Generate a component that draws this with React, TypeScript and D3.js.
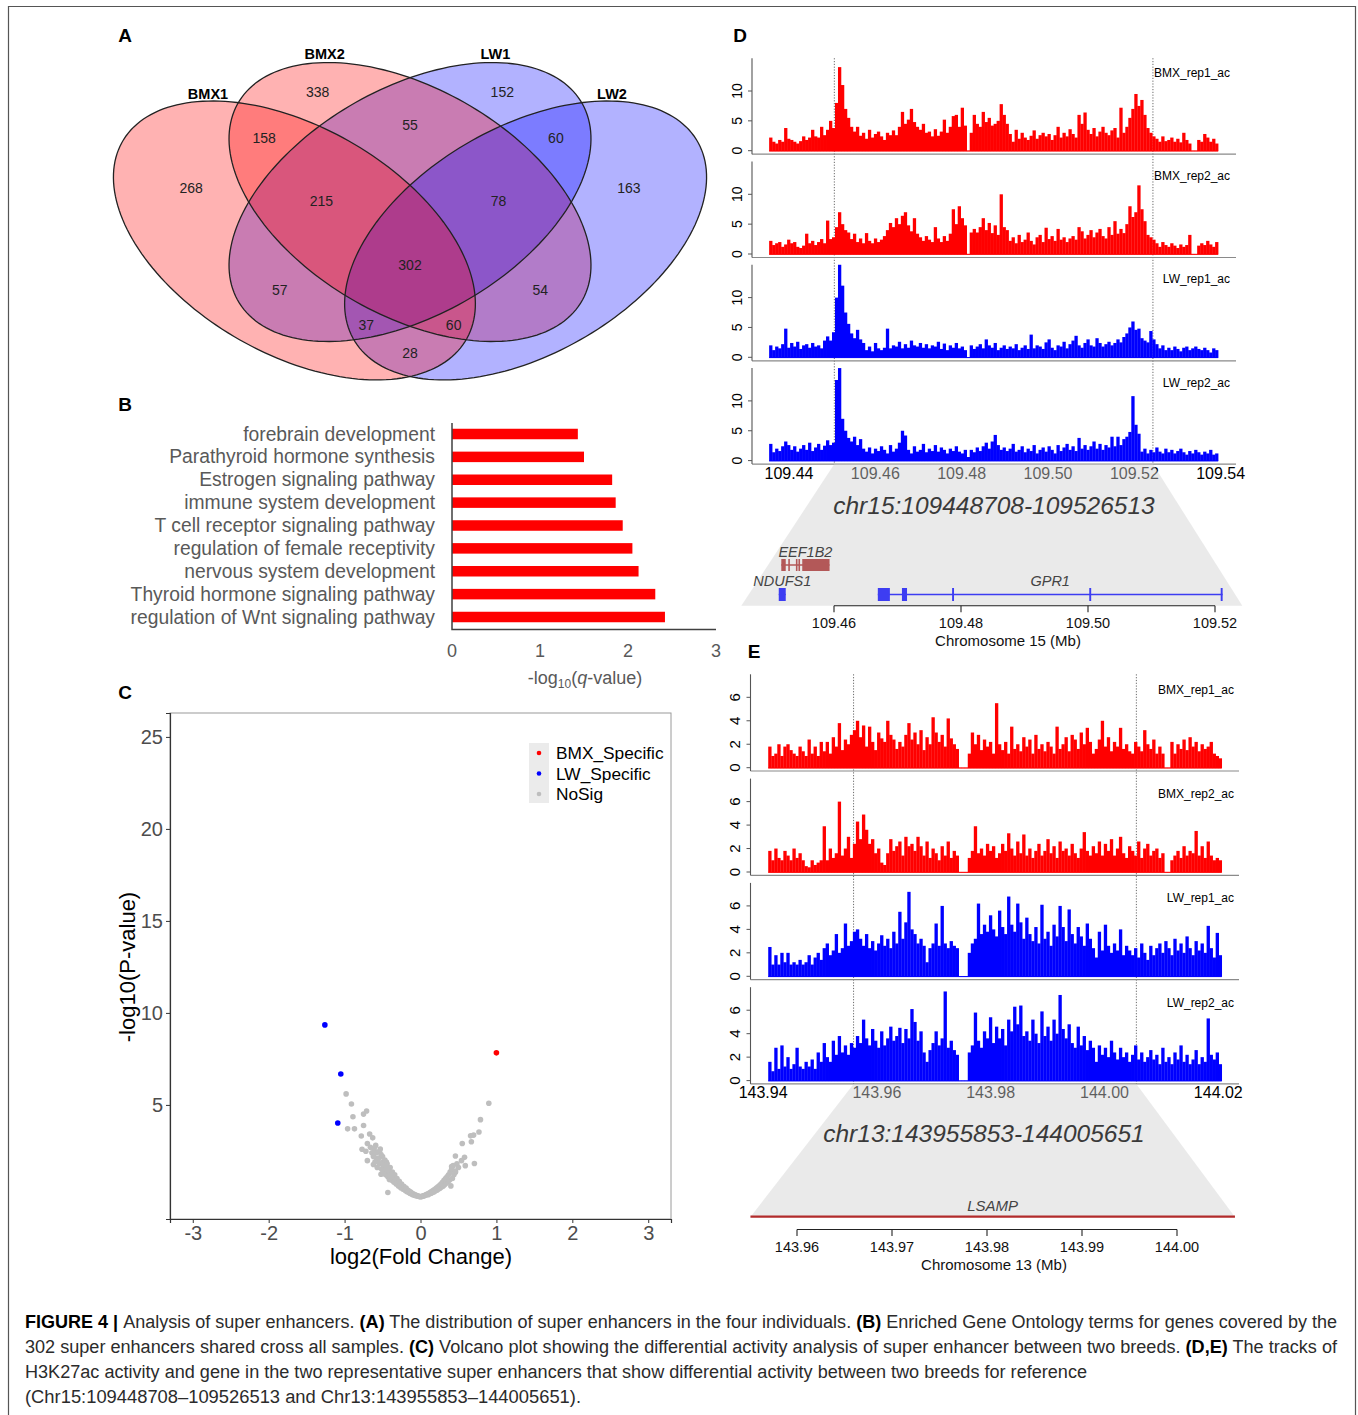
import React, { useEffect, useRef } from 'react';
import * as d3 from 'd3';

const SANS = "'Liberation Sans', Arial, Helvetica, sans-serif";

// ---------- A: Venn ----------
const vennSets = ['BMX1', 'BMX2', 'LW1', 'LW2'];
const vennCounts = [268, 338, 152, 163, 158, 55, 60, 215, 78, 302, 57, 54, 37, 60, 28];

// ---------- B: GO terms ----------
const goTerms = [
  'forebrain development',
  'Parathyroid hormone synthesis',
  'Estrogen signaling pathway',
  'immune system development',
  'T cell receptor signaling pathway',
  'regulation of female receptivity',
  'nervous system development',
  'Thyroid hormone signaling pathway',
  'regulation of Wnt signaling pathway',
];
const goLog10Q = [1.43, 1.5, 1.82, 1.86, 1.94, 2.05, 2.12, 2.31, 2.42];
const goTicks = [0, 1, 2, 3];

// ---------- C: volcano ----------
const volcanoXTicks = [-3, -2, -1, 0, 1, 2, 3];
const volcanoYTicks = [5, 10, 15, 20, 25];
const bmxSpecific = [[1.0, 7.83]];
const lwSpecific = [[-1.26, 9.35], [-1.05, 6.68], [-1.09, 4.02]];
const noSig = [
  [-0.98, 5.6], [-0.91, 5.05], [-0.89, 4.36], [-0.75, 4.5], [-0.71, 4.67], [-0.96, 3.7], [-0.87, 3.7],
  [-0.75, 3.88], [-0.78, 3.31], [-0.67, 3.42], [-0.63, 3.21], [-0.7, 2.9], [-0.77, 2.59], [-0.72, 2.48],
  [-0.59, 2.8], [-0.54, 2.48], [-0.7, 1.97], [-0.62, 1.76], [-0.57, 1.97], [-0.49, 1.65], [-0.44, 1.45],
  [-0.52, 1.23], [-0.39, 1.13], [-0.43, 0.24], [-0.66, 2.7], [-0.64, 2.4], [-0.61, 2.6], [-0.58, 2.1],
  [-0.53, 2.6], [-0.5, 2.2], [-0.47, 1.5], [-0.45, 1.9],
  [-0.62, 2.2], [-0.6, 1.9], [-0.58, 2.4], [-0.57, 1.6], [-0.55, 2.1], [-0.54, 1.8], [-0.52, 2.3],
  [-0.51, 1.5], [-0.5, 1.9], [-0.49, 1.3], [-0.48, 1.7], [-0.47, 2.0], [-0.46, 1.2], [-0.45, 1.55],
  [-0.44, 1.8], [-0.43, 1.1], [-0.42, 1.4], [-0.41, 0.95], [-0.4, 1.6], [-0.39, 1.2], [-0.38, 0.9],
  [-0.37, 1.35], [-0.36, 1.05], [-0.35, 0.8], [-0.34, 1.2], [-0.33, 0.95], [-0.32, 0.7], [-0.31, 1.0],
  [-0.3, 0.8], [-0.29, 0.6], [-0.28, 0.85], [-0.27, 0.65], [-0.26, 0.5], [-0.25, 0.7], [-0.24, 0.55],
  [-0.23, 0.42], [-0.22, 0.58], [-0.21, 0.45], [-0.2, 0.35], [-0.19, 0.48], [-0.18, 0.3], [-0.17, 0.38],
  [-0.16, 0.25], [-0.15, 0.32], [-0.14, 0.2], [-0.13, 0.26], [-0.12, 0.16], [-0.11, 0.2], [-0.1, 0.12],
  [-0.09, 0.16], [-0.08, 0.09], [-0.07, 0.11], [-0.06, 0.07], [-0.05, 0.08], [-0.04, 0.05], [-0.03, 0.04],
  [-0.02, 0.03], [-0.01, 0.02], [0, 0.01],
  [0.9, 5.09], [0.79, 4.2], [0.77, 3.53], [0.66, 3.32], [0.7, 3.36], [0.67, 3.0], [0.55, 2.9], [0.71, 1.82],
  [0.58, 2.15], [0.46, 2.22], [0.54, 1.97], [0.59, 1.7], [0.41, 1.65], [0.46, 1.34],
  [0.01, 0.02], [0.02, 0.03], [0.03, 0.04], [0.04, 0.06], [0.05, 0.07], [0.06, 0.09], [0.07, 0.1],
  [0.08, 0.13], [0.09, 0.15], [0.1, 0.12], [0.11, 0.2], [0.12, 0.17], [0.13, 0.25], [0.14, 0.2],
  [0.15, 0.3], [0.16, 0.24], [0.17, 0.36], [0.18, 0.28], [0.19, 0.42], [0.2, 0.33], [0.21, 0.48],
  [0.22, 0.38], [0.23, 0.55], [0.24, 0.43], [0.25, 0.62], [0.26, 0.48], [0.27, 0.7], [0.28, 0.55],
  [0.29, 0.8], [0.3, 0.6], [0.31, 0.9], [0.32, 0.68], [0.33, 1.0], [0.34, 0.75], [0.35, 1.1],
  [0.36, 0.82], [0.37, 1.2], [0.38, 0.9], [0.39, 1.35], [0.4, 0.6], [0.41, 1.5], [0.42, 1.0],
  [0.43, 1.7], [0.44, 1.2], [0.46, 1.4], [0.48, 1.8], [0.5, 1.6],
];
const volcanoLegend = ['BMX_Specific', 'LW_Specific', 'NoSig'];

// ---------- D: chr15 tracks (150 bins each) ----------
const chr15Ticks = [109.44, 109.46, 109.48, 109.50, 109.52, 109.54];
const chr15Range = [109.4354, 109.5394];
const chr15SE = [109.4505, 109.5243];
const dBmx1 = [
  2.2, 1.5, 1.2, 1.8, 1.5, 3.8, 2, 1.8, 1.5, 1.2,
  1.6, 2.4, 1.8, 2.2, 3.5, 2.4, 2.2, 4, 2.6, 3.5,
  5, 3.8, 8, 14, 11, 7, 5.5, 4, 3.2, 4,
  2.5, 3, 2, 3.5, 2.2, 2.8, 3.2, 2.4, 1.8, 3,
  2.6, 3.4, 2.6, 4, 6.5, 4.5, 5.2, 7, 4.8, 4,
  3.5, 4.5, 3, 3.2, 2.4, 3.6, 2.5, 3.2, 5.2, 3,
  4, 5.8, 6, 4, 7.2, 4.2, 0, 3, 6, 4.5,
  4, 6.5, 4.8, 5.5, 4.2, 4.5, 5, 7.8, 6, 4.5,
  2.8, 1.5, 3.5, 2, 3, 2.2, 1.8, 2.5, 3.4, 2,
  2.6, 3, 2.4, 2.8, 1.8, 2.6, 4, 2.2, 3, 2.4,
  3.6, 2.8, 2.2, 6, 4.5, 6.4, 3.5, 2.8, 3.8, 2.4,
  3.2, 4, 3, 2.6, 3.4, 3.8, 2.2, 7.2, 3, 4,
  5.5, 7, 9.5, 7.5, 8.5, 6, 3.8, 3, 2.4, 2,
  1.5, 2.4, 1.6, 1.8, 2.2, 1.5, 2, 1.4, 3, 1.8,
  1.2, 0, 0, 1.8, 1.5, 2.8, 2.2, 1.5, 2, 1.2,
];
const dBmx2 = [
  2.2, 1.5, 1.8, 2, 1.2, 1.6, 2.4, 1.8, 2, 1.2,
  1, 1.4, 3.4, 1.8, 2.2, 1.5, 2, 2.5, 1.8, 5.6,
  2.5, 2.8, 4.5, 7, 5, 4, 3.6, 2.5, 3.4, 2,
  2.6, 1.8, 3.5, 2.2, 1.8, 2.6, 2, 2.4, 3, 4,
  5.2, 4.5, 6, 5, 6.4, 7, 4.8, 3.8, 6, 3.4,
  2.8, 2.2, 3, 2.4, 2, 4.5, 2.6, 2, 3, 2.2,
  3.4, 7.5, 5, 8, 6, 4.8, 0, 3.6, 4.2, 3.6,
  4.5, 6, 4, 5.2, 3.5, 4.8, 3.2, 10, 4.5, 4,
  2.2, 2.8, 1.8, 3.2, 2, 2.4, 3.6, 2.2, 1.6, 2.8,
  3.2, 2, 4.4, 2.5, 3, 2.2, 4.2, 2.4, 2.8, 2,
  2.6, 3, 2.4, 4.5, 3.8, 2.6, 3.2, 4, 2.8, 3.6,
  4.2, 3, 2.6, 4.5, 3.2, 5.5, 3.4, 4.2, 3.5, 5,
  8, 6.2, 7, 11.5, 7.5, 5.5, 3.2, 2.8, 2.4, 1.8,
  1.2, 2, 1.5, 1.2, 1.8, 1.4, 1, 1.6, 1.2, 1.5,
  3.2, 0, 0, 1.4, 1.8, 1.5, 2.2, 1.6, 1.2, 2,
];
const dLw1 = [
  2, 1.2, 1.8, 1.5, 2.2, 4.8, 1.6, 2.4, 1.8, 2.6,
  1.4, 2, 2.2, 1.6, 2.4, 1.8, 2, 1.5, 2.8, 3.5,
  2.8, 4.2, 10, 15.5, 12, 7.5, 5.6, 4, 3.2, 4.6,
  3, 2.4, 1.2, 1.8, 1, 2.4, 1.5, 1.2, 1.6, 4.8,
  1.5, 2, 1.8, 2.6, 1.5, 2.2, 1.6, 2.8, 2, 1.8,
  2.4, 1.6, 2.2, 1.5, 2, 1.8, 2.6, 1.4, 2.3, 1.2,
  2, 1.6, 2.4, 1.5, 1.8, 1.2, 0, 2, 1.4, 1.8,
  2.2, 1.5, 3, 2, 1.6, 2.4, 1.2, 1.6, 2, 1.4,
  1.8, 1.5, 2.2, 1.2, 1.6, 2, 1.4, 3.8, 1.5, 2,
  1.8, 1.4, 2.5, 3, 1.6, 1.2, 2, 1.8, 2.6, 1.5,
  2.2, 2.8, 3.6, 2, 1.6, 2.4, 3, 2, 1.8, 3.2,
  2.4, 1.8, 2.2, 2.6, 2, 2.4, 3, 2.5, 3.4, 4,
  5, 6, 4.6, 4.8, 3.2, 2.8, 2.5, 4.4, 3, 2.2,
  1.5, 2, 1.2, 1.6, 1.2, 1.8, 1.4, 1, 1.6, 1.8,
  1.2, 1.5, 1.8, 1.4, 1.2, 1.6, 1.2, 0.8, 1.5, 1.2,
];
const dLw2 = [
  2.8, 1.4, 2, 1.6, 2.4, 3.2, 2.6, 1.8, 2.4, 1.5,
  2, 2.6, 1.8, 3, 1.6, 2.2, 2.8, 1.8, 2.5, 3.4,
  2.6, 3, 13.5, 15.5, 7, 5, 3.8, 3.2, 4, 2.6,
  3.6, 2, 1.5, 2.2, 1.2, 2, 1.6, 2.4, 1.8, 1.2,
  2.6, 1.5, 2, 3, 5, 4.2, 1.8, 1.2, 2.4, 1.5,
  1.8, 2.8, 1.4, 2, 1.6, 2.6, 1.5, 2.2, 1.8, 1.2,
  2, 1.6, 2.4, 1.5, 1.2, 1.8, 0.6, 1.8, 1.4, 2.2,
  1.6, 2.4, 3, 2, 3.2, 4.3, 2.6, 1.8, 2.2, 1.6,
  2, 2.8, 1.5, 1.8, 2.4, 1.4, 2, 1.6, 2.6, 1.2,
  1.8, 2.2, 1.5, 2.4, 1.8, 1.2, 2.6, 1.6, 2.2, 2.8,
  1.8, 2.4, 1.6, 3.8, 2, 2.6, 1.8, 2.4, 3.2, 2,
  2.8, 1.8, 2.6, 2.2, 4, 2.4, 4, 2.6, 3.6, 4,
  4.8, 10.8, 6, 4.5, 1.5, 2, 1.2, 1.8, 1.4, 2.2,
  1.5, 1.2, 2, 1.4, 1.8, 1.2, 1.6, 2, 1.4, 1,
  1.6, 1.2, 1.8, 1.4, 1, 1.5, 1.2, 1.8, 1, 1.2,
];

// ---------- E: chr13 tracks (150 bins each) ----------
const chr13Ticks = [143.94, 143.96, 143.98, 144.00, 144.02];
const chr13Range = [143.9409, 144.0206];
const chr13SE = [143.9559, 144.0056];
const eBmx1 = [
  1.8, 1, 1.2, 2, 1, 1.8, 2, 1.5, 1.2, 1,
  1.8, 1.4, 1, 2.4, 1.2, 1.8, 1, 2.2, 1.4, 2.2,
  1.2, 2.6, 1.8, 3.8, 1.5, 2.4, 2, 2.8, 3.2, 4,
  2.6, 3.6, 1.8, 3.5, 2.2, 1.5, 3, 2.5, 2.2, 4,
  2.8, 2.4, 1.6, 2.2, 1.8, 2.8, 3.8, 2.4, 3, 2,
  3.2, 1.5, 2.6, 2, 4.3, 3, 2.2, 2.8, 1.8, 4.2,
  2.5, 2, 1.6, 0, 0, 0, 1.2, 3, 2, 2.8,
  1.5, 2.4, 1.8, 2.2, 1.2, 5.5, 2, 1.5, 2.2, 1.2,
  3.5, 1.6, 2, 1.4, 2.6, 1.8, 2.4, 1.2, 2.8, 1.6,
  2, 1.4, 2.2, 1.8, 1.2, 3.5, 1.6, 2, 2.6, 1.4,
  2.8, 2.4, 1.6, 3, 2, 3.4, 2.2, 1.2, 1.6, 2.4,
  4, 1.8, 2.6, 1.4, 2.2, 1.8, 3.4, 1.6, 2, 1.4,
  1.2, 2.2, 1.8, 1.4, 3.2, 2, 1.6, 2.4, 1.2, 1.8,
  1.2, 0, 0, 2.2, 1.2, 2, 1.6, 2.4, 1.5, 2.6,
  1.8, 2.2, 1.4, 2, 1.6, 1.8, 2.2, 1.2, 1, 0.8,
];
const eBmx2 = [
  1.8, 1, 2, 1.2, 1, 1.8, 1.4, 1, 2, 1.2,
  1.6, 1, 0.5, 0.4, 1, 0.6, 0.8, 1, 3.9, 1,
  2, 1.2, 1.6, 6, 1.4, 2, 3, 1.2, 2.4, 4.3,
  2.8, 4.9, 3.6, 2.4, 2.8, 1.6, 2, 0.8, 0.6, 1.6,
  2.8, 1.8, 2.2, 2.6, 1.4, 3, 2.2, 2.4, 1.8, 3,
  2.2, 1.4, 2.6, 1.2, 2, 1.6, 1, 2.2, 1.4, 2.6,
  1.2, 1.8, 1.4, 0, 0, 0, 1.2, 1.8, 3.9, 1.6,
  2, 1.4, 2.4, 1.8, 2.2, 1.2, 1.6, 2.4, 1.8, 3.3,
  2, 1.4, 2.6, 1.6, 3.2, 1.4, 2, 1.2, 1.8, 2.4,
  1.4, 1.8, 2.8, 1.6, 2.2, 1.2, 2.6, 1.8, 2, 1.4,
  2.4, 1.6, 1.2, 2, 3.4, 1.8, 1.4, 2.2, 1.6, 2.6,
  1.4, 2.4, 1.8, 2.8, 1.4, 2, 3, 1.6, 1.2, 2.2,
  1.8, 1.4, 2.6, 1.2, 2, 2.4, 1.4, 1.8, 2, 1.2,
  1.6, 0, 0, 1, 1.4, 1.8, 1.2, 2.2, 1.4, 1.8,
  1.6, 3.5, 1.4, 2.2, 1.2, 2.6, 1.4, 1, 1.2, 1,
];
const eLw1 = [
  2.5, 1, 1.8, 1, 2, 1.2, 2, 1, 1.2, 1,
  1.4, 1, 1.2, 1.8, 1, 1.6, 2, 1.4, 2.4, 2.8,
  1.8, 2.2, 3.6, 2, 2.4, 4.5, 2.6, 3, 3.8, 4,
  3.2, 2.6, 3.6, 2.4, 3, 2.2, 2.8, 3.5, 2.6, 3.2,
  2.4, 3.8, 2.8, 5.5, 3.2, 4.6, 7.2, 4, 3.6, 2.8,
  3.2, 2.6, 1.2, 2.4, 2.8, 4.5, 2.6, 6, 2.8, 2.4,
  3, 2.6, 2.4, 0, 0, 0, 2, 2.8, 3.2, 6.2,
  3.6, 4.4, 3.8, 5.2, 4, 3.4, 5.6, 4.2, 3.6, 6.8,
  4.4, 3.8, 6.2, 4.6, 3.2, 5, 3.6, 3, 4.2, 2.8,
  6.1, 3.2, 3.8, 2.6, 4.4, 3.4, 6, 4.2, 3, 5.7,
  3.6, 2.8, 4.2, 3.4, 2.6, 4.5, 3.2, 2.4, 1.6, 3.8,
  2.2, 4.4, 2.6, 2, 2.8, 2.2, 4, 1.8, 2.6, 2.2,
  1.8, 2.4, 1.6, 2.8, 2, 1.4, 2.6, 1.8, 2.4, 2.8,
  2, 3, 2.4, 1.8, 3.2, 2.2, 2.8, 2, 3.4, 2.4,
  1.8, 3, 2.2, 2.8, 2, 4.3, 2.4, 1.6, 3.7, 1.8,
];
const eLw2 = [
  1.6, 0.8, 2.8, 1, 3, 1.2, 2, 1, 1.4, 2.8,
  1.2, 1, 1.6, 1.2, 1.8, 1, 2.4, 1.6, 3.2, 2,
  1.6, 3.4, 2.2, 3.8, 2.4, 3, 2.2, 3.2, 2.8, 3.8,
  3.2, 5.2, 3.6, 3, 4.4, 3.4, 2.8, 4.2, 3, 3.6,
  4.6, 3.4, 3.8, 4.5, 3.2, 4.4, 3.6, 6.1, 5, 3.4,
  4.2, 2.4, 1.6, 2.6, 3.2, 4.2, 3, 3.6, 7.6, 2.8,
  3.4, 2.6, 2.2, 0, 0, 0, 2.4, 3, 5.8, 3.4,
  2.8, 4.2, 3.6, 5.4, 3.2, 4.6, 3.6, 4.4, 3, 5.2,
  4.2, 6.3, 4.8, 6.4, 3.8, 4.2, 3.4, 5.2, 4, 3.2,
  5.9, 3.8, 4.6, 3.4, 5.2, 4, 7.3, 4.4, 3.6, 4.8,
  3.2, 2.8, 4.6, 3, 3.8, 2.6, 3.4, 2.8, 1.6, 3,
  2.2, 2.8, 2, 3.4, 2.4, 1.8, 2.8, 2, 2.4, 1.6,
  2.2, 3, 1.8, 2.4, 1.6, 2, 2.6, 1.8, 2.2, 1.4,
  2.8, 1.6, 2, 1.4, 2.4, 1.8, 3, 1.6, 2.2, 1.4,
  1.8, 2.6, 1.4, 2, 1.6, 5.3, 2.2, 1.8, 2.4, 1.4,
];

const trackNames = ['BMX_rep1_ac', 'BMX_rep2_ac', 'LW_rep1_ac', 'LW_rep2_ac'];

// ---------- gene models ----------
const chr15GeneTicks = [109.46, 109.48, 109.50, 109.52];
const chr15View = [109.4454, 109.5243];
const chr15Genes = [
  { name: 'EEF1B2', row: 0, start: 109.4517, end: 109.4593,
    exons: [[109.4517, 109.4524], [109.4528, 109.453], [109.454, 109.4542], [109.4544, 109.4546], [109.455, 109.4593]] },
  { name: 'NDUFS1', row: 1, start: 109.4513, end: 109.4524, exons: [[109.4513, 109.4524]] },
  { name: 'GPR1', row: 1, start: 109.4669, end: 109.5212,
    exons: [[109.4669, 109.4688], [109.4707, 109.4715], [109.4786, 109.4789], [109.5002, 109.5005], [109.5209, 109.5212]] },
];
const chr13GeneTicks = [143.96, 143.97, 143.98, 143.99, 144.00];
const chr13View = [143.9551, 144.0061];
const chr13Genes = [{ name: 'LSAMP', start: 143.9551, end: 144.0061 }];

const captionLines = [
  [['b', 'FIGURE 4 | '], ['n', 'Analysis of super enhancers. '], ['b', '(A)'], ['n', ' The distribution of super enhancers in the four individuals. '], ['b', '(B)'], ['n', ' Enriched Gene Ontology terms for genes covered by the']],
  [['n', '302 super enhancers shared cross all samples. '], ['b', '(C)'], ['n', ' Volcano plot showing the differential activity analysis of super enhancer between two breeds. '], ['b', '(D,E)'], ['n', ' The tracks of']],
  [['n', 'H3K27ac activity and gene in the two representative super enhancers that show differential activity between two breeds for reference']],
  [['n', '(Chr15:109448708\u2013109526513 and Chr13:143955853\u2013144005651).']],
];

export default function App() {
  const ref = useRef(null);

  useEffect(() => {
    const svg = d3.select(ref.current);
    svg.selectAll('*').remove();

    // frame
    svg.append('path').attr('d', 'M8.5,1415V6.5H1355.5V1415').attr('fill', 'none').attr('stroke', '#555').attr('stroke-width', 1.2);

    const letter = (t, x, y) => svg.append('text').attr('x', x).attr('y', y).attr('text-anchor', 'middle')
      .attr('dominant-baseline', 'central').attr('font-family', SANS).attr('font-weight', 'bold').attr('font-size', 19).text(t);
    letter('A', 125, 35); letter('B', 125, 404); letter('C', 125, 692); letter('D', 740, 35); letter('E', 754, 651);

    // ================= A: Venn =================
    const xV = d3.scaleLinear().domain([0, 1]).range([98.25, 721.75]);
    const yV = d3.scaleLinear().domain([0, 1]).range([475.9, -4.6]);
    const VA = 0.35, VB = 0.2145;
    const ellipses = [
      { cx: 0.3146, cy: 0.49, rot: -45, color: '#FF0000' },
      { cx: 0.5, cy: 0.57, rot: -45, color: '#FF0000' },
      { cx: 0.5, cy: 0.57, rot: 45, color: '#0000FF' },
      { cx: 0.6854, cy: 0.49, rot: 45, color: '#0000FF' },
    ];
    const ellPath = (e) => {
      const r = e.rot * Math.PI / 180;
      const pts = d3.range(180).map(i => {
        const t = i / 180 * 2 * Math.PI;
        const ex = VA * Math.cos(t), ey = VB * Math.sin(t);
        return [xV(e.cx + ex * Math.cos(r) - ey * Math.sin(r)), yV(e.cy + ex * Math.sin(r) + ey * Math.cos(r))];
      });
      return d3.line().curve(d3.curveLinearClosed)(pts);
    };
    const gA = svg.append('g');
    [2, 1, 3, 0].forEach(i => gA.append('path').attr('d', ellPath(ellipses[i])).attr('fill', ellipses[i].color).attr('fill-opacity', 0.3));
    ellipses.forEach(e => gA.append('path').attr('d', ellPath(e)).attr('fill', 'none').attr('stroke', '#222').attr('stroke-width', 1.3));
    const countPos = [[0.149, 0.599], [0.352, 0.799], [0.648, 0.799], [0.851, 0.599], [0.266, 0.703], [0.5, 0.73], [0.734, 0.703],
      [0.358, 0.572], [0.642, 0.572], [0.5, 0.439], [0.291, 0.387], [0.709, 0.387], [0.43, 0.314], [0.57, 0.314], [0.5, 0.256]];
    vennCounts.forEach((c, i) => gA.append('text').attr('x', xV(countPos[i][0])).attr('y', yV(countPos[i][1]))
      .attr('text-anchor', 'middle').attr('dominant-baseline', 'central').attr('font-family', SANS).attr('font-size', 14)
      .attr('fill', '#222').text(c));
    const setPos = [[0.176, 0.795], [0.363, 0.878], [0.637, 0.878], [0.824, 0.795]];
    vennSets.forEach((s, i) => gA.append('text').attr('x', xV(setPos[i][0])).attr('y', yV(setPos[i][1]))
      .attr('text-anchor', 'middle').attr('dominant-baseline', 'central').attr('font-family', SANS).attr('font-size', 14.5)
      .attr('font-weight', 'bold').text(s));

    // ================= B: GO bars =================
    const xB = d3.scaleLinear().domain([0, 3]).range([452, 716]);
    const yB = d3.scalePoint().domain(goTerms).range([434, 617]);
    const gB = svg.append('g');
    gB.selectAll('rect').data(goTerms).join('rect')
      .attr('x', xB(0)).attr('y', d => yB(d) - 5.25).attr('height', 10.5)
      .attr('width', (d, i) => xB(goLog10Q[i]) - xB(0)).attr('fill', '#FF0000');
    gB.selectAll('text.lab').data(goTerms).join('text').attr('class', 'lab')
      .attr('x', 435).attr('y', d => yB(d)).attr('text-anchor', 'end').attr('dominant-baseline', 'central')
      .attr('font-family', SANS).attr('font-size', 19.3).attr('fill', '#595959').text(d => d);
    gB.append('path').attr('d', `M${xB(0)},423V629.5H${xB(3)}`).attr('fill', 'none').attr('stroke', '#404040').attr('stroke-width', 1.5);
    gB.selectAll('text.tk').data(goTicks).join('text').attr('class', 'tk')
      .attr('x', d => xB(d)).attr('y', 651).attr('text-anchor', 'middle').attr('dominant-baseline', 'central')
      .attr('font-family', SANS).attr('font-size', 18).attr('fill', '#595959').text(d => d);
    const tt = gB.append('text').attr('x', 585).attr('y', 684).attr('text-anchor', 'middle')
      .attr('font-family', SANS).attr('font-size', 18).attr('fill', '#595959');
    tt.append('tspan').text('-log');
    tt.append('tspan').attr('font-size', 12).attr('dy', 4).text('10');
    tt.append('tspan').attr('dy', -4).text('(');
    tt.append('tspan').attr('font-style', 'italic').text('q');
    tt.append('tspan').text('-value)');

    // ================= C: volcano =================
    const xC = d3.scaleLinear().domain([-3.3, 3.3]).range([170, 671]);
    const yC = d3.scaleLinear().domain([-1.2, 26.3]).range([1219, 713]);
    const gC = svg.append('g');
    gC.append('rect').attr('x', 170).attr('y', 713).attr('width', 501).attr('height', 506)
      .attr('fill', 'none').attr('stroke', '#9a9a9a').attr('stroke-width', 1);
    const axL = gC.append('g').attr('transform', 'translate(170,0)')
      .call(d3.axisLeft(yC).tickValues(volcanoYTicks).tickSize(4).tickPadding(3).tickFormat(d => String(d)));
    const axB = gC.append('g').attr('transform', 'translate(0,1219)')
      .call(d3.axisBottom(xC).tickValues(volcanoXTicks).tickSize(4).tickPadding(3).tickFormat(d => String(d)));
    [axL, axB].forEach(a => {
      a.select('.domain').attr('stroke', '#333').attr('stroke-width', 1.2);
      a.selectAll('.tick line').attr('stroke', '#333');
      a.selectAll('.tick text').attr('font-family', SANS).attr('font-size', 20).attr('fill', '#4d4d4d');
    });
    gC.selectAll('circle.ns').data(noSig).join('circle').attr('class', 'ns')
      .attr('cx', d => xC(d[0])).attr('cy', d => yC(d[1])).attr('r', 2.8).attr('fill', '#BEBEBE');
    gC.selectAll('circle.lw').data(lwSpecific).join('circle').attr('class', 'lw')
      .attr('cx', d => xC(d[0])).attr('cy', d => yC(d[1])).attr('r', 2.8).attr('fill', '#0000FF');
    gC.selectAll('circle.bm').data(bmxSpecific).join('circle').attr('class', 'bm')
      .attr('cx', d => xC(d[0])).attr('cy', d => yC(d[1])).attr('r', 2.8).attr('fill', '#FF0000');
    gC.append('text').attr('transform', 'translate(127,967) rotate(-90)').attr('text-anchor', 'middle')
      .attr('dominant-baseline', 'central').attr('font-family', SANS).attr('font-size', 22).text('-log10(P-value)');
    gC.append('text').attr('x', 421).attr('y', 1256).attr('text-anchor', 'middle').attr('dominant-baseline', 'central')
      .attr('font-family', SANS).attr('font-size', 22).text('log2(Fold Change)');
    gC.append('rect').attr('x', 529).attr('y', 743).attr('width', 20).attr('height', 60).attr('fill', '#EBEBEB');
    const legColors = ['#FF0000', '#0000FF', '#BEBEBE'];
    volcanoLegend.forEach((l, i) => {
      gC.append('circle').attr('cx', 539).attr('cy', 753 + i * 20.5).attr('r', 2.3).attr('fill', legColors[i]);
      gC.append('text').attr('x', 556).attr('y', 753 + i * 20.5).attr('dominant-baseline', 'central')
        .attr('font-family', SANS).attr('font-size', 17.3).text(l);
    });

    // ================= tracks =================
    const drawTracks = (o) => {
      const g = svg.append('g');
      const n = o.tracks[0].length;
      const bw = (o.x(o.range[1]) - o.x(o.range[0])) / n;
      const top = o.zero0 - o.topOff;
      const bottom = o.zero0 + 3 * o.step + o.botOff;
      o.se.forEach(v => g.append('line').attr('x1', o.x(v)).attr('x2', o.x(v)).attr('y1', top).attr('y2', bottom)
        .attr('stroke', '#444').attr('stroke-width', 0.8).attr('stroke-dasharray', '1.2,1.6'));
      o.tracks.forEach((vals, k) => {
        const z = o.zero0 + k * o.step;
        const y = d3.scaleLinear().domain([0, 1]).range([z, z - o.perUnit]);
        const color = k < 2 ? '#FF0000' : '#0000FF';
        g.append('g').selectAll('rect').data(vals).join('rect')
          .attr('x', (d, i) => o.x(o.range[0]) + i * bw).attr('width', bw + 0.3)
          .attr('y', d => y(d)).attr('height', d => Math.max(0, z - y(d) + 0.5)).attr('fill', color);
        g.append('line').attr('x1', o.x(o.range[0])).attr('x2', o.x(o.range[1])).attr('y1', z + 0.3).attr('y2', z + 0.3)
          .attr('stroke', color).attr('stroke-width', 1);
        g.append('line').attr('x1', o.axisX).attr('x2', o.lineEnd).attr('y1', z + o.botOff).attr('y2', z + o.botOff)
          .attr('stroke', '#8a8a8a').attr('stroke-width', 1.2);
        g.append('line').attr('x1', o.axisX).attr('x2', o.axisX).attr('y1', z - o.topOff).attr('y2', z + o.botOff)
          .attr('stroke', '#555').attr('stroke-width', 1.1);
        o.yTicks.forEach(v => {
          g.append('line').attr('x1', o.axisX - 4).attr('x2', o.axisX).attr('y1', y(v)).attr('y2', y(v)).attr('stroke', '#555');
          g.append('text').attr('transform', `translate(${o.labelX},${y(v)}) rotate(-90)`).attr('text-anchor', 'middle')
            .attr('dominant-baseline', 'central').attr('font-family', SANS).attr('font-size', o.yFont).text(v);
        });
        g.append('text').attr('x', o.nameRight).attr('y', z - 78).attr('text-anchor', 'end').attr('dominant-baseline', 'central')
          .attr('font-family', SANS).attr('font-size', 12).text(trackNames[k]);
      });
      o.xTicks.forEach(v => g.append('text').attr('x', o.x(v)).attr('y', bottom + 9).attr('text-anchor', 'middle')
        .attr('dominant-baseline', 'central').attr('font-family', SANS).attr('font-size', 16).text(d3.format('.2f')(v)));
    };

    const xD = d3.scaleLinear().domain([109.44, 109.54]).range([789, 1220.7]);
    drawTracks({ tracks: [dBmx1, dBmx2, dLw1, dLw2], x: xD, range: chr15Range, se: chr15SE, zero0: 150.7, step: 103.3,
      perUnit: 5.97, topOff: 92.5, botOff: 3.5, axisX: 752, lineEnd: 1236, labelX: 736.5, yTicks: [0, 5, 10], yFont: 14,
      nameRight: 1230, xTicks: chr15Ticks });
    const xE = d3.scaleLinear().domain([143.94, 144.02]).range([763.1, 1218.3]);
    drawTracks({ tracks: [eBmx1, eBmx2, eLw1, eLw2], x: xE, range: chr13Range, se: chr13SE, zero0: 767.7, step: 104.3,
      perUnit: 11.73, topOff: 93.4, botOff: 3.3, axisX: 750.5, lineEnd: 1239, labelX: 734.5, yTicks: [0, 2, 4, 6], yFont: 15,
      nameRight: 1234, xTicks: chr13Ticks });

    // ================= gene panels =================
    const xDg = d3.scaleLinear().domain([109.46, 109.52]).range([834, 1215]);
    const xEg = d3.scaleLinear().domain([143.96, 144.00]).range([797, 1177]);
    const trap = (xa, xb, y1, xc, xd, y2) => svg.append('path')
      .attr('d', `M${xa},${y1}L${xb},${y1}L${xd},${y2}L${xc},${y2}Z`).attr('fill', '#D0D0D0').attr('fill-opacity', 0.45);
    trap(xD(chr15SE[0]), xD(chr15SE[1]), 464.1, xDg(chr15View[0]), xDg(chr15View[1]), 605.7);
    trap(xE(chr13SE[0]), xE(chr13SE[1]), 1084, xEg(chr13View[0]), xEg(chr13View[1]), 1217);

    const region = (t, x, y) => svg.append('text').attr('x', x).attr('y', y).attr('text-anchor', 'middle')
      .attr('dominant-baseline', 'central').attr('font-family', SANS).attr('font-style', 'italic').attr('font-size', 24.5)
      .attr('fill', '#3a3a3a').text(t);
    region('chr15:109448708-109526513', 994, 505);
    region('chr13:143955853-144005651', 984, 1133);

    const geneColor = { EEF1B2: '#B35858', NDUFS1: '#3D3DF2', GPR1: '#3D3DF2', LSAMP: '#B22B2B' };
    const gG = svg.append('g');
    chr15Genes.forEach(gn => {
      const cy = gn.row === 0 ? 565 : 594.5;
      const h = gn.row === 0 ? 12 : 13;
      const col = geneColor[gn.name];
      gG.append('line').attr('x1', xDg(gn.start)).attr('x2', xDg(gn.end)).attr('y1', cy).attr('y2', cy)
        .attr('stroke', col).attr('stroke-width', 1.3);
      gn.exons.forEach(ex => gG.append('rect').attr('x', xDg(ex[0])).attr('y', cy - h / 2)
        .attr('width', Math.max(1.6, xDg(ex[1]) - xDg(ex[0]))).attr('height', h).attr('fill', col));
      gG.append('text').attr('x', (xDg(gn.start) + xDg(gn.end)) / 2).attr('y', cy - 13.5).attr('text-anchor', 'middle')
        .attr('dominant-baseline', 'central').attr('font-family', SANS).attr('font-style', 'italic').attr('font-size', 14.5)
        .attr('fill', '#444').text(gn.name);
    });
    chr13Genes.forEach(gn => {
      gG.append('line').attr('x1', xEg(gn.start)).attr('x2', xEg(gn.end)).attr('y1', 1216.7).attr('y2', 1216.7)
        .attr('stroke', geneColor[gn.name]).attr('stroke-width', 2.2);
      gG.append('text').attr('x', (xEg(gn.start) + xEg(gn.end)) / 2).attr('y', 1205).attr('text-anchor', 'middle')
        .attr('dominant-baseline', 'central').attr('font-family', SANS).attr('font-style', 'italic').attr('font-size', 15)
        .attr('fill', '#444').text(gn.name);
    });

    const geneAxis = (x, ticks, y, title, titleX) => {
      const g = svg.append('g');
      g.append('line').attr('x1', x(ticks[0])).attr('x2', x(ticks[ticks.length - 1])).attr('y1', y).attr('y2', y)
        .attr('stroke', '#222').attr('stroke-width', 1.1);
      ticks.forEach(v => {
        g.append('line').attr('x1', x(v)).attr('x2', x(v)).attr('y1', y).attr('y2', y + 6.5).attr('stroke', '#222').attr('stroke-width', 1.1);
        g.append('text').attr('x', x(v)).attr('y', y + 17.5).attr('text-anchor', 'middle').attr('dominant-baseline', 'central')
          .attr('font-family', SANS).attr('font-size', 14.5).attr('fill', '#111').text(d3.format('.2f')(v));
      });
      g.append('text').attr('x', titleX).attr('y', y + 35).attr('text-anchor', 'middle').attr('dominant-baseline', 'central')
        .attr('font-family', SANS).attr('font-size', 15).attr('fill', '#111').text(title);
    };
    geneAxis(xDg, chr15GeneTicks, 605.7, 'Chromosome 15 (Mb)', 1008);
    geneAxis(xEg, chr13GeneTicks, 1229.5, 'Chromosome 13 (Mb)', 994);

    // ================= caption =================
    const capWidths = [1312, 1312, 1062, 556];
    captionLines.forEach((line, li) => {
      const t = svg.append('text').attr('x', 25).attr('y', 1328 + li * 25).attr('font-family', SANS).attr('font-size', 18)
        .attr('fill', '#2b2b2b').attr('textLength', capWidths[li]).attr('lengthAdjust', 'spacingAndGlyphs')
        .style('white-space', 'pre');
      line.forEach(([k, s]) => {
        const sp = t.append('tspan').text(s);
        if (k === 'b') sp.attr('font-weight', 'bold').attr('fill', '#000');
      });
    });
  }, []);

  return (
    <svg ref={ref} width={1358} height={1415}
      style={{ position: 'absolute', left: 0, top: 0, background: '#fff', display: 'block' }} />
  );
}
